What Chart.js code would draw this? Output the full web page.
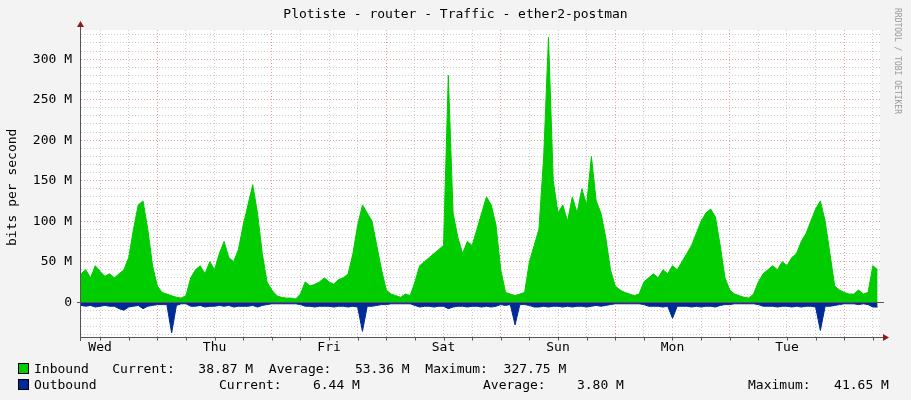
<!DOCTYPE html>
<html><head><meta charset="utf-8">
<script src="https://cdn.jsdelivr.net/npm/chart.js@4"></script>
<style>
body{margin:0;background:#f3f3f3;font-family:"DejaVu Sans Mono",monospace;}
#wrap{position:relative;width:911px;height:400px;overflow:hidden;}
canvas{position:absolute;left:0;top:0;}
.t{position:absolute;font-size:13px;white-space:pre;color:#000;line-height:15px;}
.sq{position:absolute;width:9px;height:9px;border:1px solid #000;}
</style></head><body>
<div id="wrap">
<canvas id="c" width="911" height="400"></canvas>
<div class="t" style="left:0;width:911px;text-align:center;top:6px;">Plotiste - router - Traffic - ether2-postman</div>
<div class="t" style="left:893px;top:8px;font-size:8px;color:#999;transform-origin:0 0;transform:translate(12px,0) rotate(90deg);">RRDTOOL / TOBI OETIKER</div>
<div class="t" style="left:4px;top:246px;transform-origin:0 0;transform:rotate(-90deg);">bits per second</div>
<div class="sq" style="left:18px;top:363px;background:#00cc00"></div>
<div class="sq" style="left:18px;top:379px;background:#002a97"></div>
<div class="t" style="left:34px;top:361px;">Inbound   Current:   38.87 M  Average:   53.36 M  Maximum:  327.75 M</div>
<div class="t" style="left:34px;top:377px;">Outbound</div>
<div class="t" style="left:219px;top:377px;">Current:    6.44 M</div>
<div class="t" style="left:483px;top:377px;">Average:    3.80 M</div>
<div class="t" style="left:748px;top:377px;">Maximum:   41.65 M</div>
</div>
<script>
// hours from Wed 08:00, one value per hour (Mbit/s)
const hours = Array.from({length:168},(_, i)=>i);
const dayLabels = ["Wed","Thu","Fri","Sat","Sun","Mon","Tue"];
const yTickLabels = ["0","50 M","100 M","150 M","200 M","250 M","300 M"];
const inbound = [
 35,40,30,45,38,32,35,30,35,40,55,90,120,125,90,45,
 20,12,10,8,6,5,8,30,40,45,35,50,40,60,75,55,50,65,95,120,145,110,60,25,
 15,8,6,5,5,4,10,25,20,22,25,30,25,22,28,30,35,60,95,120,110,100,70,40,
 15,10,8,6,10,8,25,45,50,55,60,65,70,280,110,80,60,75,70,90,110,130,120,95,
 40,12,10,8,10,12,50,70,90,180,327,150,110,120,100,130,110,140,120,180,125,110,80,40,
 20,15,12,10,8,10,25,30,35,30,40,35,45,40,50,60,70,85,100,110,115,105,70,30,
 15,10,8,6,5,10,25,35,40,45,40,50,45,55,60,75,85,100,115,125,100,60,20,15,
 12,10,10,15,10,12,45,40
];
const outbound = [
 4,5,4,6,5,4,5,5,8,10,6,5,4,8,5,4,
 3,3,3,38,4,2,2,5,5,4,6,5,5,4,5,4,6,5,5,5,4,6,4,3,
 2,2,2,2,2,2,3,5,5,6,5,5,5,6,5,5,6,5,6,36,5,5,4,3,
 3,2,2,2,2,2,4,6,5,5,6,5,5,8,6,5,5,6,5,5,6,5,6,5,
 3,4,3,28,3,3,4,6,6,5,6,5,5,6,5,6,5,5,6,5,4,5,4,3,
 2,2,2,2,2,2,3,5,5,5,6,5,20,5,5,5,6,5,6,5,5,6,4,3,
 3,2,2,2,2,2,3,5,5,5,6,5,5,6,5,6,5,5,6,35,5,5,4,3,
 2,2,2,3,2,3,6,6
];
const bgPlugin={id:'bg',beforeDraw(ch){const {ctx,chartArea:a}=ch;ctx.save();ctx.fillStyle='#fff';ctx.fillRect(a.left,a.top,a.right-a.left,a.bottom-a.top);ctx.restore();}};
const gridPlugin={id:'axes',afterDraw(ch){
 const {ctx,chartArea:a,scales:{x,y}}=ch;ctx.save();
 ctx.strokeStyle='#555';ctx.lineWidth=1;ctx.beginPath();
 ctx.moveTo(a.left-0.5,a.bottom+4);ctx.lineTo(a.left-0.5,a.top-6);
 const y0=Math.round(y.getPixelForValue(0))+0.5;
 ctx.moveTo(a.left-4,y0);ctx.lineTo(a.right+4,y0);
 const yb=a.bottom+0.5;ctx.moveTo(a.left-0.5,yb);ctx.lineTo(a.right+3,yb);ctx.stroke();
 for(let h=4;h<=167;h+=6){const px=Math.round(x.getPixelForValue(h))+0.5;ctx.beginPath();ctx.moveTo(px,yb);ctx.lineTo(px,yb+3);ctx.stroke();}
 ctx.fillStyle='#8b1a1a';
 ctx.beginPath();ctx.moveTo(a.left-4,a.top-3);ctx.lineTo(a.left+3,a.top-3);ctx.lineTo(a.left-0.5,a.top-9);ctx.fill();
 ctx.beginPath();ctx.moveTo(a.right+3,yb-3.5);ctx.lineTo(a.right+3,yb+3.5);ctx.lineTo(a.right+9,yb);ctx.fill();
 ctx.restore();}};
new Chart(document.getElementById('c'),{
 type:'line',
 data:{labels:hours,datasets:[
  {data:inbound.map((v,i)=>({x:hours[i],y:v})),borderColor:'#00cc00',backgroundColor:'#00cc00',fill:'origin',borderWidth:1,pointRadius:0,tension:0},
  {data:outbound.map((v,i)=>({x:hours[i],y:-v})),borderColor:'#002a97',backgroundColor:'#002a97',fill:'origin',borderWidth:1,pointRadius:0,tension:0}
 ]},
 options:{responsive:false,animation:false,events:[],
  layout:{padding:{top:30,right:31,left:0,bottom:0}},
  plugins:{legend:{display:false},tooltip:{enabled:false}},
  scales:{
   x:{type:'linear',min:0,max:167.5,
    afterBuildTicks(s){const t=[];for(let h=4;h<=167;h+=6)t.push({value:h});s.ticks=t;},
    afterFit(s){s.height=63;},
    border:{display:false,dash:[1,2]},
    grid:{drawTicks:false,color:c=>((c.tick&&(c.tick.value-16)%24===0)?'#e8a0a0':'#cccccc')},
    ticks:{autoSkip:false,maxRotation:0,padding:3,color:'#000',font:{family:'DejaVu Sans Mono',size:13},
     callback:v=>((v-4)%24===0?dayLabels[(v-4)/24]:'')}},
   y:{min:-43,max:336,
    afterBuildTicks(s){const t=[];for(let v=-40;v<=330;v+=10)t.push({value:v});s.ticks=t;},
    afterFit(s){s.width=81;},
    border:{display:false,dash:[1,2]},
    grid:{drawTicks:false,color:c=>((c.tick&&c.tick.value%50===0&&c.tick.value>=0)?'#e8a0a0':'#cccccc')},
    ticks:{autoSkip:false,padding:9,color:'#000',font:{family:'DejaVu Sans Mono',size:13},
     callback:v=>(v>=0&&v%50===0?yTickLabels[v/50]:'')}}
  }},
 plugins:[bgPlugin,gridPlugin]
});
</script></body></html>
